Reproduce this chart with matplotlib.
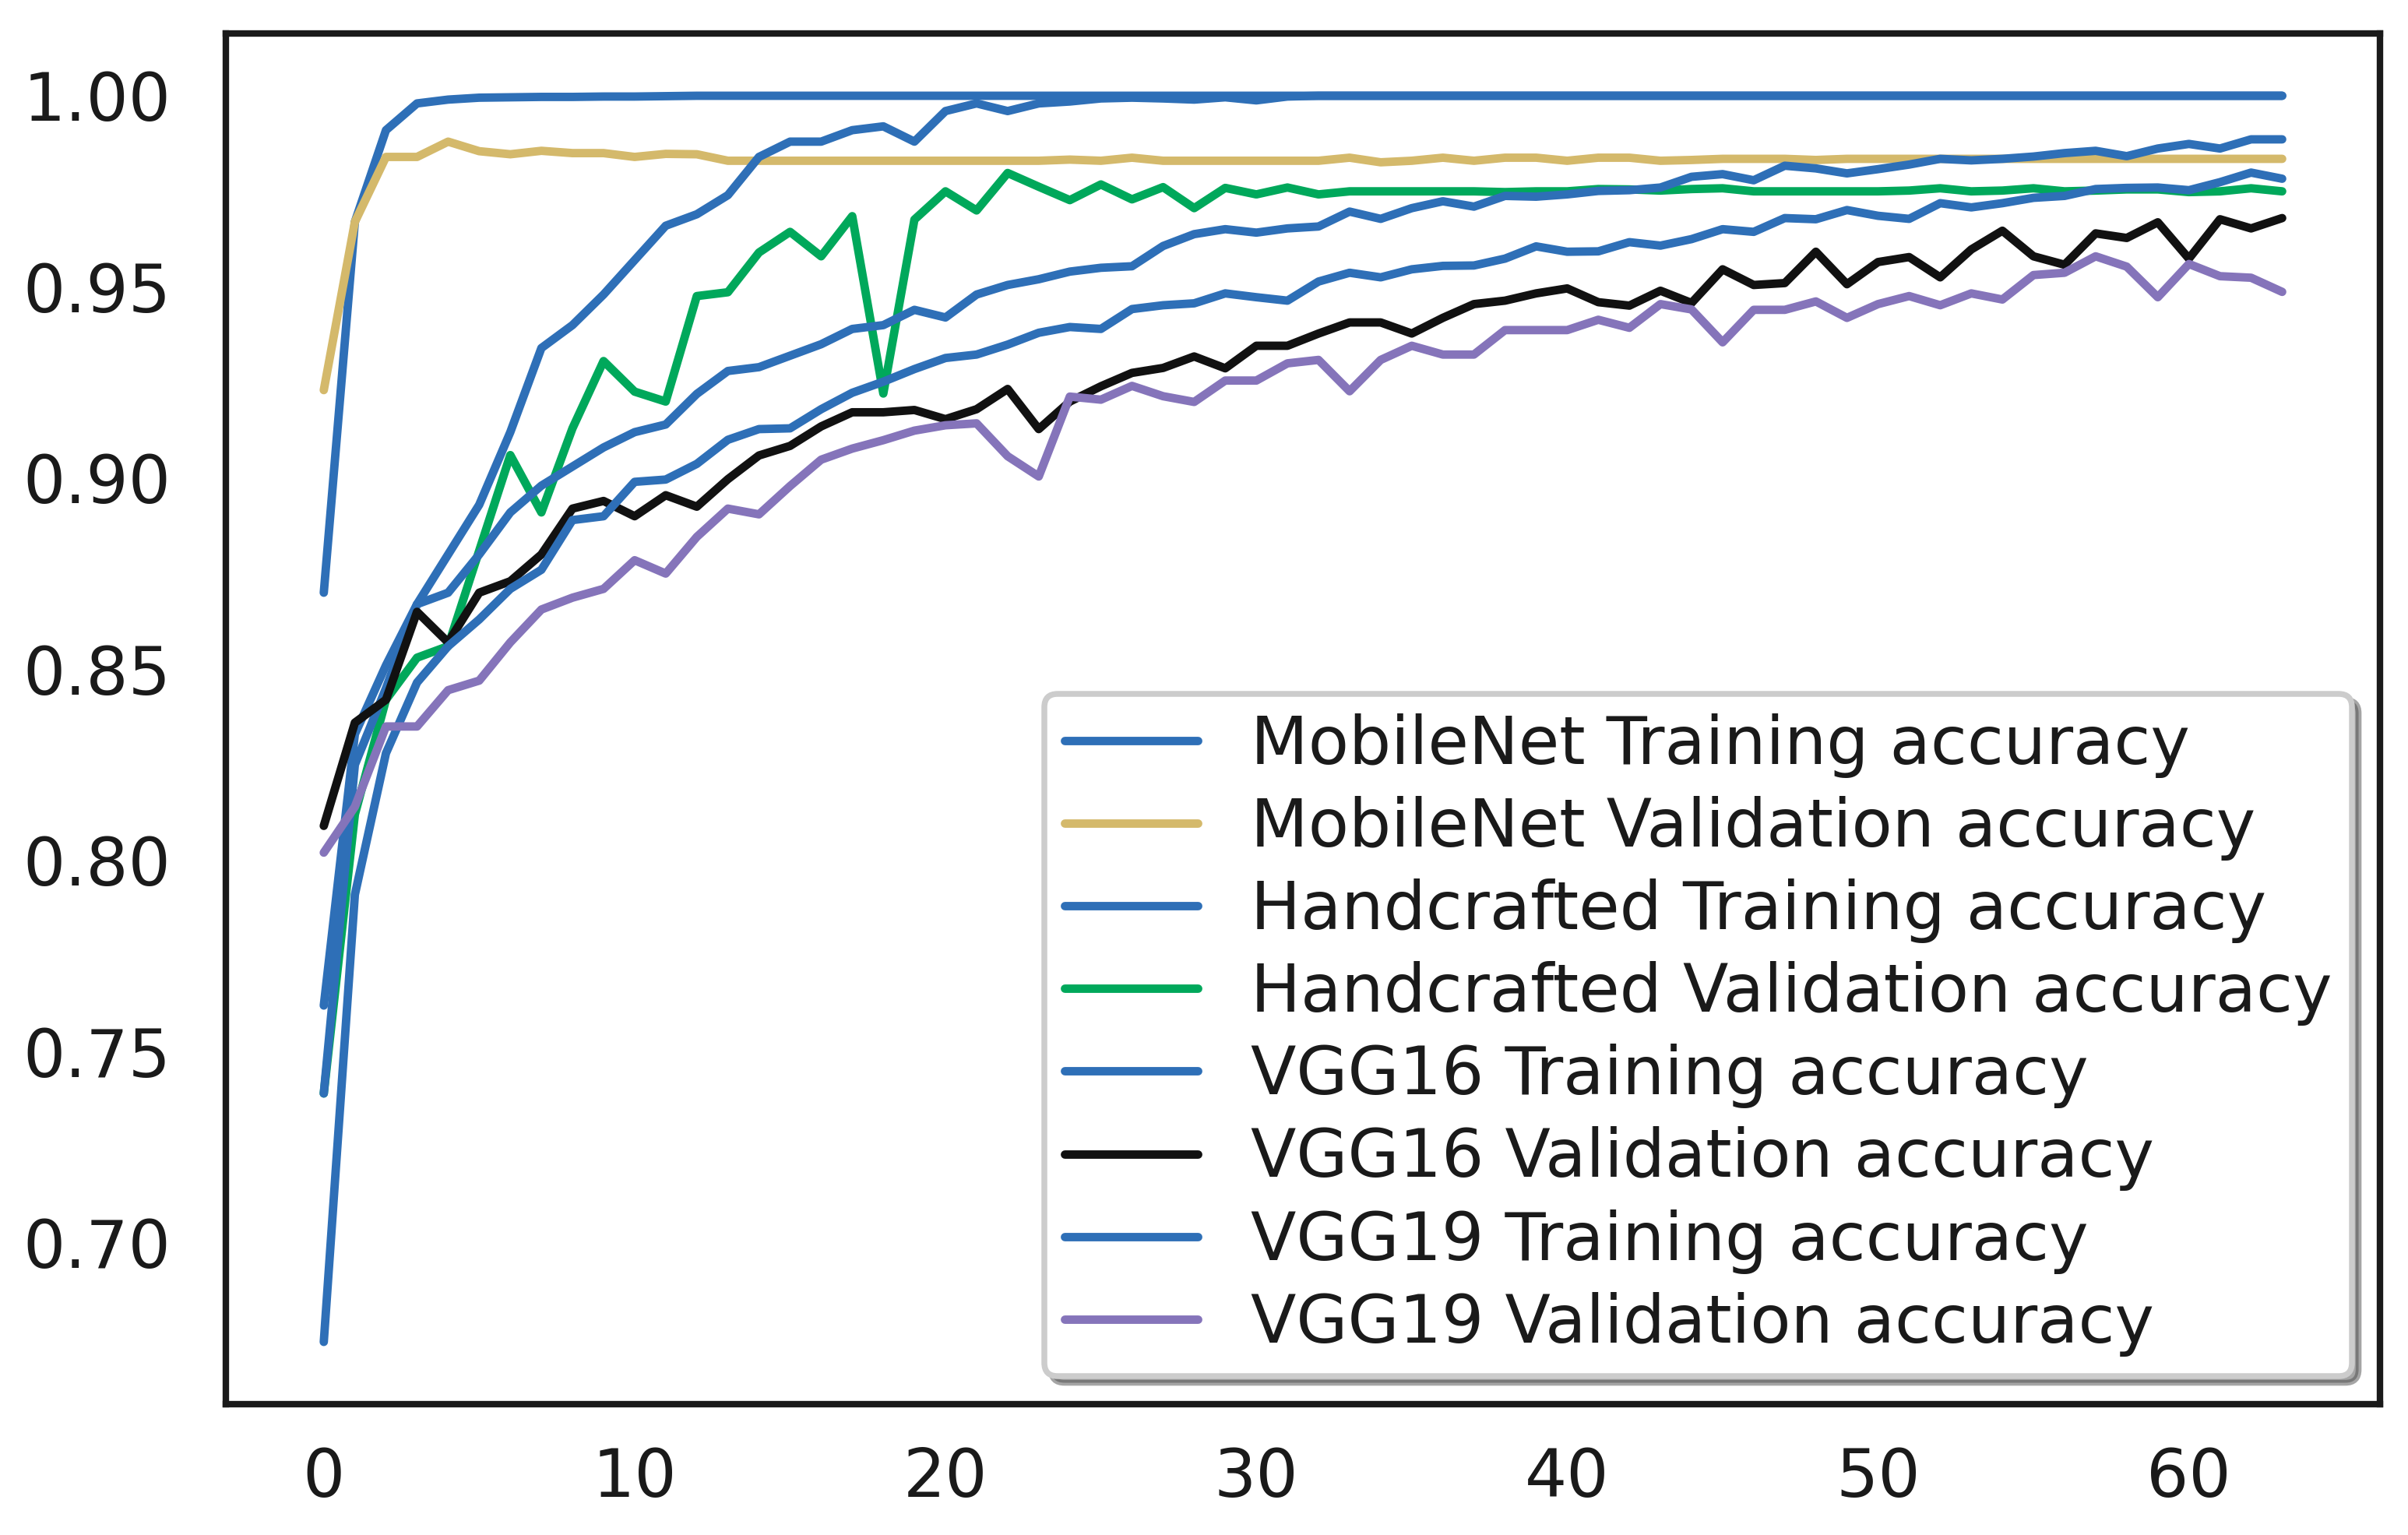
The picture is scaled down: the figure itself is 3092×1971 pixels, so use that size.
import numpy as np
import matplotlib
matplotlib.use("Agg")
from matplotlib import pyplot as plt

epochs = np.arange(64)

mobilenet_train = [0.870, 0.967, 0.991, 0.998, 0.999, 0.9995, 0.9996, 0.9997, 0.9997, 0.9998,
                   0.9998, 0.9999, 1.0, 1.0, 1.0, 1.0, 1.0, 1.0, 1.0, 1.0,
                   1.0, 1.0, 1.0, 1.0, 1.0, 1.0, 1.0, 1.0, 1.0, 1.0,
                   1.0, 1.0, 1.0, 1.0, 1.0, 1.0, 1.0, 1.0, 1.0, 1.0,
                   1.0, 1.0, 1.0, 1.0, 1.0, 1.0, 1.0, 1.0, 1.0, 1.0,
                   1.0, 1.0, 1.0, 1.0, 1.0, 1.0, 1.0, 1.0, 1.0, 1.0,
                   1.0, 1.0, 1.0, 1.0]
mobilenet_val = [0.923, 0.967, 0.984, 0.984, 0.988, 0.9855, 0.9847, 0.9856, 0.985, 0.985,
                 0.984, 0.9848, 0.9847, 0.983, 0.983, 0.983, 0.983, 0.983, 0.983, 0.983,
                 0.983, 0.983, 0.983, 0.983, 0.9833, 0.983, 0.9838, 0.983, 0.983, 0.983,
                 0.983, 0.983, 0.983, 0.9838, 0.9826, 0.983, 0.9838, 0.983, 0.9838, 0.9838,
                 0.983, 0.9838, 0.9838, 0.983, 0.9832, 0.9835, 0.9835, 0.9835, 0.9832, 0.9835,
                 0.9835, 0.9835, 0.9835, 0.9835, 0.9835, 0.9835, 0.9835, 0.9835, 0.9835, 0.9835,
                 0.9835, 0.9835, 0.9835, 0.9835]
handcrafted_train = [0.762, 0.833, 0.851, 0.867, 0.880, 0.893, 0.912, 0.934, 0.940, 0.948,
                     0.957, 0.966, 0.969, 0.974, 0.984, 0.988, 0.988, 0.991, 0.992, 0.988,
                     0.996, 0.998, 0.996, 0.998, 0.9985, 0.9993, 0.9995, 0.9993, 0.9990, 0.9996,
                     0.9988, 0.9998, 1.0, 1.0, 1.0, 1.0, 1.0, 1.0, 1.0, 1.0,
                     1.0, 1.0, 1.0, 1.0, 1.0, 1.0, 1.0, 1.0, 1.0, 1.0,
                     1.0, 1.0, 1.0, 1.0, 1.0, 1.0, 1.0, 1.0, 1.0, 1.0,
                     1.0, 1.0, 1.0, 1.0]
handcrafted_val = [0.739, 0.812, 0.842, 0.853, 0.856, 0.881, 0.906, 0.891, 0.913, 0.9306,
                   0.9226, 0.920, 0.9476, 0.9486, 0.959, 0.9644, 0.958, 0.9685, 0.9221, 0.9676,
                   0.975, 0.970, 0.9798, 0.9762, 0.9727, 0.9768, 0.9729, 0.9761, 0.9706, 0.9759,
                   0.9742, 0.976, 0.9742, 0.975, 0.975, 0.975, 0.975, 0.975, 0.9748, 0.975,
                   0.975, 0.9756, 0.9755, 0.9752, 0.9756, 0.9758, 0.975, 0.975, 0.975, 0.975,
                   0.975, 0.9752, 0.9758, 0.975, 0.9752, 0.9758, 0.975, 0.9752, 0.9755, 0.9755,
                   0.9748, 0.975, 0.9758, 0.975]
vgg16_train = [0.739, 0.825, 0.845, 0.867, 0.870, 0.880, 0.891, 0.898, 0.903, 0.908,
               0.912, 0.914, 0.922, 0.928, 0.929, 0.932, 0.935, 0.939, 0.940, 0.944,
               0.942, 0.948, 0.9505, 0.952, 0.954, 0.955, 0.9554, 0.9607, 0.9638, 0.9651,
               0.9642, 0.9653, 0.9658, 0.9697, 0.9678, 0.9706, 0.9724, 0.971, 0.9738, 0.9736,
               0.9742, 0.9751, 0.9753, 0.976, 0.9788, 0.9795, 0.9779, 0.9817, 0.981, 0.9797,
               0.9808, 0.982, 0.9835, 0.9831, 0.9835, 0.9841, 0.985, 0.9856, 0.9842, 0.9862,
               0.9874, 0.9862, 0.9886, 0.9886]
vgg16_val = [0.809, 0.836, 0.842, 0.865, 0.857, 0.870, 0.873, 0.880, 0.892, 0.894,
             0.890, 0.8955, 0.8925, 0.8997, 0.9059, 0.9084, 0.9135, 0.9172, 0.9172, 0.9178,
             0.9154, 0.918, 0.9233, 0.9128, 0.920, 0.924, 0.9275, 0.9288, 0.9318, 0.9287,
             0.9346, 0.9346, 0.9378, 0.9407, 0.9407, 0.9378, 0.9419, 0.9455, 0.9464, 0.9483,
             0.9496, 0.946, 0.9451, 0.949, 0.9458, 0.9546, 0.9505, 0.951, 0.9592, 0.9507,
             0.9565, 0.9578, 0.9525, 0.9598, 0.9647, 0.958, 0.9558, 0.964, 0.9628, 0.9669,
             0.9574, 0.9677, 0.9653, 0.968]
vgg19_train = [0.674, 0.791, 0.828, 0.8465, 0.856, 0.863, 0.871, 0.876, 0.889, 0.890,
               0.899, 0.8996, 0.9037, 0.910, 0.9128, 0.913, 0.918, 0.9223, 0.9252, 0.9285,
               0.9314, 0.9323, 0.9349, 0.938, 0.9395, 0.939, 0.9442, 0.9452, 0.9457, 0.9483,
               0.9473, 0.9464, 0.9514, 0.9537, 0.9525, 0.9546, 0.9555, 0.9556, 0.9574, 0.9606,
               0.9592, 0.9593, 0.9617, 0.9608, 0.9625, 0.9651, 0.9644, 0.968, 0.9677, 0.9701,
               0.9686, 0.9678, 0.9719, 0.9708, 0.9719, 0.9733, 0.9738, 0.9756, 0.9759, 0.976,
               0.9753, 0.9774, 0.9799, 0.9783]
vgg19_val = [0.802, 0.814, 0.835, 0.835, 0.8445, 0.847, 0.857, 0.8656, 0.8687, 0.871,
             0.8785, 0.875, 0.8846, 0.892, 0.8905, 0.8979, 0.9048, 0.9077, 0.9099, 0.9124,
             0.9138, 0.9143, 0.9057, 0.9004, 0.9213, 0.9205, 0.9241, 0.9214, 0.9199, 0.9255,
             0.9255, 0.930, 0.9309, 0.9227, 0.9309, 0.9346, 0.9323, 0.9323, 0.9387, 0.9387,
             0.9387, 0.9414, 0.9393, 0.9455, 0.9441, 0.9355, 0.944, 0.944, 0.9462, 0.9419,
             0.9455, 0.9476, 0.9452, 0.9483, 0.9467, 0.9531, 0.9537, 0.958, 0.9553, 0.9473,
             0.956, 0.9528, 0.9524, 0.9487]

xticks = [0, 10, 20, 30, 40, 50, 60]
yticks = [0.70, 0.75, 0.80, 0.85, 0.90, 0.95, 1.00]

blue = "#2e6fb7"
series = [
    (mobilenet_train, "MobileNet Training accuracy", blue),
    (mobilenet_val, "MobileNet Validation accuracy", "#d4b96b"),
    (handcrafted_train, "Handcrafted Training accuracy", blue),
    (handcrafted_val, "Handcrafted Validation accuracy", "#00a85b"),
    (vgg16_train, "VGG16 Training accuracy", blue),
    (vgg16_val, "VGG16 Validation accuracy", "#111111"),
    (vgg19_train, "VGG19 Training accuracy", blue),
    (vgg19_val, "VGG19 Validation accuracy", "#8574ba"),
]

plt.rcParams["font.family"] = ["DejaVu Sans"]
plt.rcParams["text.color"] = "#1a1a1a"

fig = plt.figure(figsize=(3092 / 300, 1971 / 300), dpi=300)
ax = fig.add_axes([0.0938, 0.0852, 0.8946, 0.8930])

for values, label, color in series:
    ax.plot(epochs, values, color=color, lw=2.6, label=label, solid_capstyle="round")

ax.set_xticks(xticks)
ax.set_yticks(yticks)
ax.set_yticklabels(["%.2f" % t for t in yticks])
ax.tick_params(axis="both", length=0, labelsize=20.5, labelcolor="#1a1a1a")
ax.tick_params(axis="y", pad=17)
ax.tick_params(axis="x", pad=13)

for sp in ax.spines.values():
    sp.set_color("#1a1a1a")
    sp.set_linewidth(2.0)

# legend sits in the lower right corner with a drop shadow
leg = ax.legend(loc="lower right", fontsize=20.5, labelspacing=0.27, borderpad=0.3,
                shadow=True, fancybox=True, framealpha=1, edgecolor="0.8",
                borderaxespad=0.42)
leg.get_frame().set_linewidth(1.8)

fig.savefig("out.png", dpi=300, facecolor="white")
